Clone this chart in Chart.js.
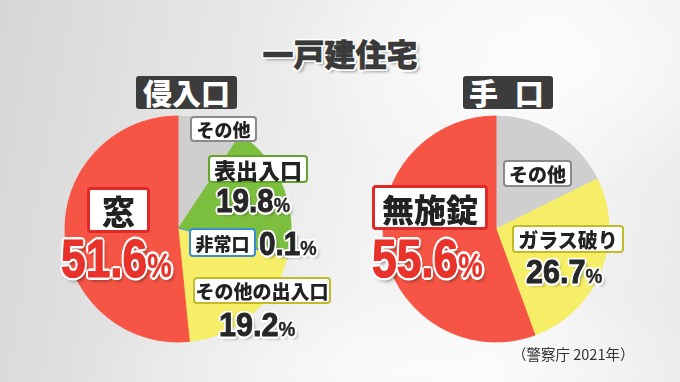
<!DOCTYPE html>
<html lang="ja">
<head>
<meta charset="utf-8">
<script src="https://cdn.jsdelivr.net/npm/chart.js@4/dist/chart.umd.min.js"></script>
<style>
  html, body { margin:0; padding:0; }
  body { width:680px; height:382px; overflow:hidden; position:relative;
    background: linear-gradient(100deg, #d6d6d6 0%, #e6e6e6 30%, #f3f3f3 55%, #f7f7f7 75%, #e9e9e9 100%);
    font-family: "Noto Sans CJK JP", "Noto Sans", sans-serif; }
  .swoosh { position:absolute; left:0; top:0; width:680px; height:382px;
    background: radial-gradient(ellipse 420px 180px at 560px 60px, rgba(255,255,255,0.7), rgba(255,255,255,0) 70%),
                radial-gradient(ellipse 500px 120px at 420px 370px, rgba(255,255,255,0.6), rgba(255,255,255,0) 70%); }
  .pie { position:absolute; width:232px; height:232px; }
  .title { position:absolute; left:240px; width:200px; top:33px; text-align:center;
    font-size:31px; font-weight:900; color:#3a3a3a; line-height:40px; -webkit-text-stroke:0.6px #3a3a3a;
    text-shadow: 2px 0 #fff, -2px 0 #fff, 0 2px #fff, 0 -2px #fff, 1.5px 1.5px #fff, -1.5px 1.5px #fff, 1.5px -1.5px #fff, -1.5px -1.5px #fff, 3px 3px 3px rgba(0,0,0,0.35); }
  .head { position:absolute; top:76px; height:33px; background:#3c3c3c; color:#fff; border-radius:3px;
    font-size:29px; font-weight:900; line-height:33px; text-align:center; box-sizing:border-box; white-space:nowrap; overflow:hidden; }
  .box { position:absolute; background:#fff; border:2.5px solid #888; border-radius:4px; box-sizing:border-box;
    display:flex; align-items:center; justify-content:center; color:#222; font-weight:900; white-space:nowrap; }
  .num { position:absolute; font-family:"Liberation Sans", Arial, sans-serif; font-weight:bold; white-space:nowrap;
    transform-origin:0 0; line-height:1; }
  .dark { color:#262626; -webkit-text-stroke:0.9px #262626;
    text-shadow: 2.5px 0 #fff, -2.5px 0 #fff, 0 2.5px #fff, 0 -2.5px #fff, 1.8px 1.8px #fff, -1.8px 1.8px #fff, 1.8px -1.8px #fff, -1.8px -1.8px #fff, 3px 3px 3px rgba(0,0,0,0.35); }
  .red { color:#e8322a; -webkit-text-stroke:1.2px #e8322a;
    text-shadow: 3px 0 #fff, -3px 0 #fff, 0 3px #fff, 0 -3px #fff, 2.2px 2.2px #fff, -2.2px 2.2px #fff, 2.2px -2.2px #fff, -2.2px -2.2px #fff, 3px 4px 4px rgba(0,0,0,0.4); }
  .pct { font-size:0.62em; -webkit-text-stroke-width:0.4px; }
  .src { position:absolute; left:512px; top:345px; font-size:14.5px; color:#333; line-height:18px; }
</style>
</head>
<body>
<div class="swoosh"></div>
<div class="pie" style="left:62px; top:113px;"><canvas id="c1"></canvas></div>
<div class="pie" style="left:380px; top:113px;"><canvas id="c2"></canvas></div>
<div class="title" id="title"></div>
<div class="head" id="h1" style="left:136px; width:101px;"></div>
<div class="head" id="h2" style="left:463px; width:90px; letter-spacing:5px; text-align:left; padding-left:6px;"></div>
<div id="labels"></div>
<div class="src" id="src"></div>
<script>
// ---- data ----
const titleText = '一戸建住宅';
const leftTitle = '侵入口';
const rightTitle = '手 口';
const sourceText = '（警察庁 2021年）';
const leftLabels = ['その他', '表出入口', '非常口', 'その他の出入口', '窓'];
const leftValues = [9.3, 19.8, 0.1, 19.2, 51.6];
const rightLabels = ['その他', 'ガラス破り', '無施錠'];
const rightValues = [17.7, 26.7, 55.6];

// ---- styles ----
const leftColors = ['#cfcfcf', '#7cbe3e', '#4a97dd', '#f5ee66', '#f65545'];
const rightColors = ['#cfcfcf', '#f5ee66', '#f65545'];
const leftBorder = ['#8a8a8a', '#66a32c', '#3a8bd2', '#c3b92a', '#e02a2a'];
const rightBorder = ['#8a8a8a', '#c3b92a', '#e02a2a'];

document.getElementById('title').textContent = titleText;
document.getElementById('h1').textContent = leftTitle;
document.getElementById('h2').textContent = rightTitle;
document.getElementById('src').textContent = sourceText;

function makePie(id, labels, values, colors, widths) {
  new Chart(document.getElementById(id), {
    type: 'pie',
    data: { labels: labels, datasets: [{ data: values, backgroundColor: colors, borderColor: colors, borderWidth: widths }] },
    options: {
      responsive: true, maintainAspectRatio: false, animation: false, radius: 113,
      layout: { padding: 0 },
      plugins: { legend: { display: false }, tooltip: { enabled: false } },
      events: []
    }
  });
}
makePie('c1', leftLabels, leftValues, leftColors, [1, 1, 3, 1, 1]);
makePie('c2', rightLabels, rightValues, rightColors, [1, 1, 1]);

// ---- label layout: box [left, top, width, height, font], num [left, top, size, scaleX, style] ----
const leftLayout = [
  { box: [190, 116, 67, 26, 18], num: null },
  { box: [208, 155, 100, 28, 22], num: [216, 184, 33, 0.9, 'dark'] },
  { box: [189, 228, 67, 29, 18], num: [259, 227, 33, 0.9, 'dark'] },
  { box: [193, 277, 138, 27, 19], num: [219, 307, 34, 0.9, 'dark'] },
  { box: [87, 187, 63, 46, 33], num: [61, 231, 54, 0.82, 'red'] }
];
const rightLayout = [
  { box: [503, 160, 69, 27, 19], num: null },
  { box: [512, 225, 112, 28, 20], num: [526, 254, 34, 0.9, 'dark'] },
  { box: [372, 185, 116, 45, 32], num: [372, 231, 54, 0.82, 'red'] }
];
const holder = document.getElementById('labels');
function addLabels(labels, values, layout, borders) {
  labels.forEach((lab, i) => {
    const L = layout[i];
    const b = document.createElement('div');
    b.className = 'box';
    b.style.left = L.box[0] + 'px'; b.style.top = L.box[1] + 'px';
    b.style.width = L.box[2] + 'px'; b.style.height = L.box[3] + 'px';
    b.style.fontSize = L.box[4] + 'px'; b.style.borderColor = borders[i];
    if (L.box[4] > 28) b.style.borderWidth = '3px';
    b.textContent = lab;
    holder.appendChild(b);
    if (L.num) {
      const n = document.createElement('div');
      n.className = 'num ' + L.num[4];
      n.style.left = L.num[0] + 'px'; n.style.top = L.num[1] + 'px';
      n.style.fontSize = L.num[2] + 'px';
      n.style.transform = 'scaleX(' + L.num[3] + ')';
      n.innerHTML = values[i].toFixed(1) + '<span class="pct">%</span>';
      holder.appendChild(n);
    }
  });
}
addLabels(leftLabels, leftValues, leftLayout, leftBorder);
addLabels(rightLabels, rightValues, rightLayout, rightBorder);
</script>
</body>
</html>
